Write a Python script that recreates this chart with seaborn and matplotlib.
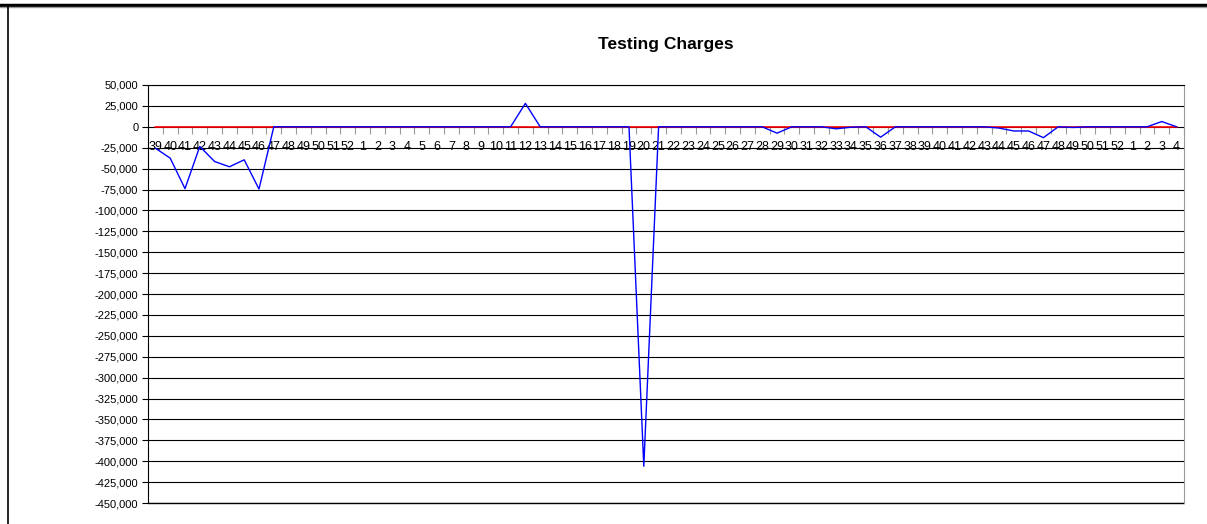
import numpy as np
import pandas as pd
import seaborn as sns
import matplotlib.pyplot as plt
from matplotlib.ticker import FuncFormatter, FixedLocator

# semaines : 39..52, 1..52, 1..4
week_labels = [str(w) for w in range(39, 53)] + [str(w) for w in range(1, 53)] + [str(w) for w in range(1, 5)]

# valeurs (une par semaine)
charges = [-25600, -37500, -74000, -23500, -41500, -47800, -39500, -74500,
           0, 0, 0, 0, 0, 0,                      # 47-52
           0, 0, 0, 0, 0, 0, 0, 0, 0, 0,          # 1-10
           0, 28000, 0, 0, 0, 0, 0, 0, 0,         # 11-19
           -406000, 0, 0, 0, 0, 0, 0, 0, 0,       # 20-28
           -7600, 0, 0, 0, -2400, -500, 0, -12400,  # 29-36
           0, 0, 0, 0, 0, 0, 0, -1500, -5000, -5000,  # 37-46
           -13000, 0, -800, 0, 0, 0,              # 47-52
           0, 0, 6300, 0]                         # 1-4
baseline = [0] * len(week_labels)

df = pd.DataFrame({'pos': np.arange(len(week_labels)), 'charges': charges, 'base': baseline})

sns.set_style('white')
plt.rcParams['font.family'] = ['Liberation Sans', 'DejaVu Sans']
plt.rcParams['text.color'] = 'black'
plt.rcParams['xtick.color'] = 'black'
plt.rcParams['ytick.color'] = 'black'

fig = plt.figure(figsize=(12.07, 5.24), dpi=100)
ax = fig.add_axes([148 / 1207, 21 / 524, (1184 - 148) / 1207, (503 - 85) / 524])

sns.lineplot(data=df, x='pos', y='base', color='red', lw=1.2, ax=ax)
sns.lineplot(data=df, x='pos', y='charges', color='blue', lw=1, ax=ax)
ax.lines[0].set_zorder(3)
ax.lines[1].set_zorder(4)

ax.set_xlim(-0.5, len(week_labels) - 0.5)
ax.set_ylim(-450000, 50000)
ax.yaxis.set_major_locator(FixedLocator(np.arange(-450000, 50001, 25000)))
ax.yaxis.set_major_formatter(FuncFormatter(lambda v, p: f"{int(v):,}"))
ax.grid(axis='y', color='black', lw=0.8)
ax.set_axisbelow(True)
ax.tick_params(axis='y', length=4, width=0.8, color='black', direction='out', labelsize=8, pad=3, left=True)

# axe des x sur la ligne zero
ax.spines['bottom'].set_position(('data', 0))
ax.spines['bottom'].set_visible(False)
ax.set_xticks(df['pos'])
ax.set_xticklabels(week_labels)
ax.set_xticks(np.arange(-0.5, len(week_labels), 1), minor=True)
ax.tick_params(axis='x', which='major', length=0, labelsize=9, pad=10)
ax.tick_params(axis='x', which='minor', length=5, width=0.8, color='#999999', direction='out', bottom=True)
ax.spines['left'].set_color('black')
ax.spines['top'].set_color('black')
ax.spines['right'].set_color('#999999')
for name in ['left', 'top', 'right']:
    ax.spines[name].set_linewidth(0.8)
ax.axhline(-450000, color='black', lw=1, clip_on=False)
ax.set_xlabel('')
ax.set_ylabel('')

fig.text((148 + 1184) / 2 / 1207, 1 - 44 / 524, 'Testing Charges', ha='center', va='center',
         fontsize=12.5, fontweight='bold')

# cadre du graphique
fig.add_artist(plt.Line2D([0, 1], [1 - 4.5 / 524, 1 - 4.5 / 524], color='black', lw=2.5))
fig.add_artist(plt.Line2D([0, 1], [1 - 7 / 524, 1 - 7 / 524], color='#999999', lw=1))
fig.add_artist(plt.Line2D([7.5 / 1207, 7.5 / 1207], [0, 1 - 6 / 524], color='black', lw=1.2))

plt.savefig('out.png', dpi=100)
